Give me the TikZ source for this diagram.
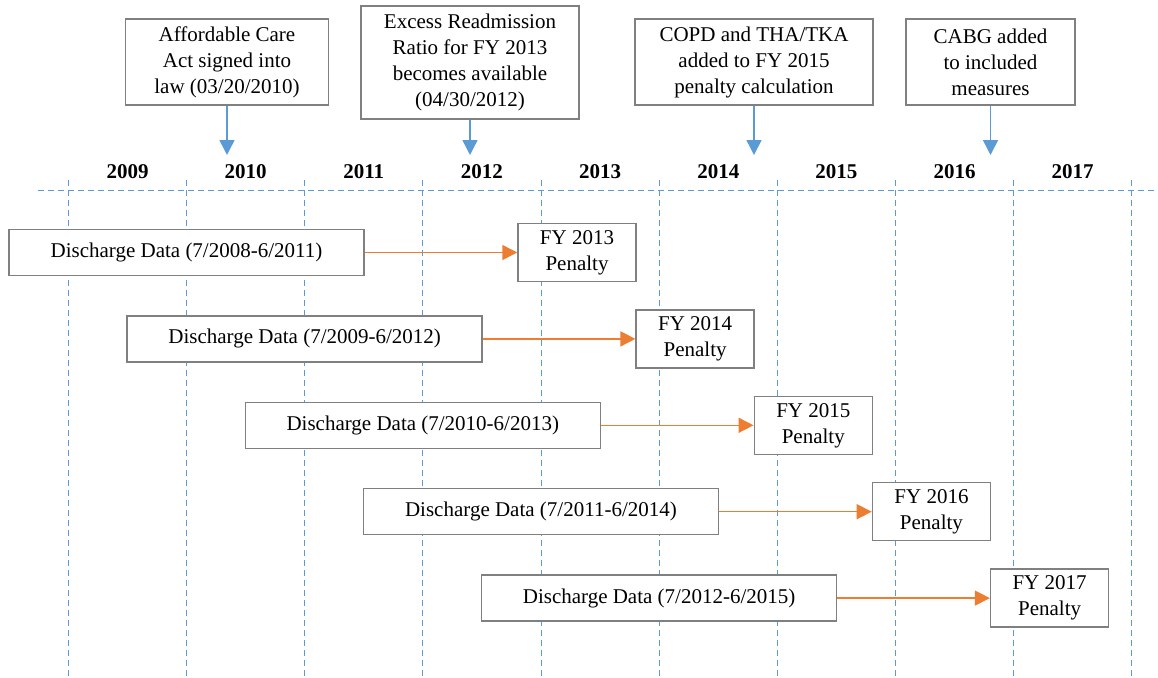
\documentclass[tikz,border=0pt]{standalone}
\usepackage{fontspec}
\setmainfont{Liberation Serif}
\usetikzlibrary{arrows.meta}
\definecolor{evblue}{HTML}{5B9BD5}
\definecolor{evorange}{HTML}{ED7D31}
\definecolor{boxgray}{HTML}{808080}
\tikzset{
  box/.style={draw=boxgray, line width=1.5pt, fill=white, align=center, inner sep=0pt, font=\fontsize{21}{26}\selectfont},
  databox/.style={box, minimum width=355pt, minimum height=46pt},
  fybox/.style={box, minimum width=118pt, minimum height=58pt},
  yearline/.style={evblue, line width=1pt, dash pattern=on 6pt off 4pt},
}
\begin{document}
\begin{tikzpicture}[x=1pt, y=-1pt, >={Triangle[length=15pt,width=15pt]}]
\useasboundingbox (0,0) rectangle (1158,677);
% time axis
\draw[yearline] (38,190) -- (1158,190);
\foreach \i in {0,...,9}
  \draw[yearline] (68.5+118.15*\i,180) -- (68.5+118.15*\i,677);
\foreach \yr [count=\i from 0] in {2009,...,2017}
  \node[font=\fontsize{21}{26}\selectfont\bfseries] (y\yr) at (127.5+118.15*\i,172) {\yr};
% events
\node[box, minimum width=203pt, minimum height=86pt] (aca) at (227,62) {Affordable Care\\Act signed into\\law (03/20/2010)};
\node[box, minimum width=218pt, minimum height=113pt] (err) at (470,62.5) {Excess Readmission\\Ratio for FY 2013\\becomes available\\(04/30/2012)};
\node[box, minimum width=238pt, minimum height=86pt] (copd) at (754,62) {COPD and THA/TKA\\added to FY 2015\\penalty calculation};
\node[box, minimum width=169pt, minimum height=86pt] (cabg) at (990.5,62) {CABG added\\to included\\measures};
\coordinate (tipline) at (0,155);
\foreach \n in {aca,err,copd,cabg}
{
  \coordinate (\n-t) at (\n.south |- tipline);
  \draw[->, evblue, line width=1.5pt] (\n) -- (\n-t);
}
% discharge windows and penalties
\foreach \a/\b/\c [count=\i from 0] in {2008/2011/2013,2009/2012/2014,2010/2013/2015,2011/2014/2016,2012/2015/2017}
{
  \node[databox] (d\c) at (186.5+118.15*\i,252.5+86.4*\i) {Discharge Data (7/\a-6/\b)};
  \node[fybox] (p\c) at (577+118.15*\i,252.5+86.4*\i) {FY \c\\Penalty};
  \draw[->, evorange, line width=1.5pt] (d\c) -- (p\c);
}
\end{tikzpicture}
\end{document}
